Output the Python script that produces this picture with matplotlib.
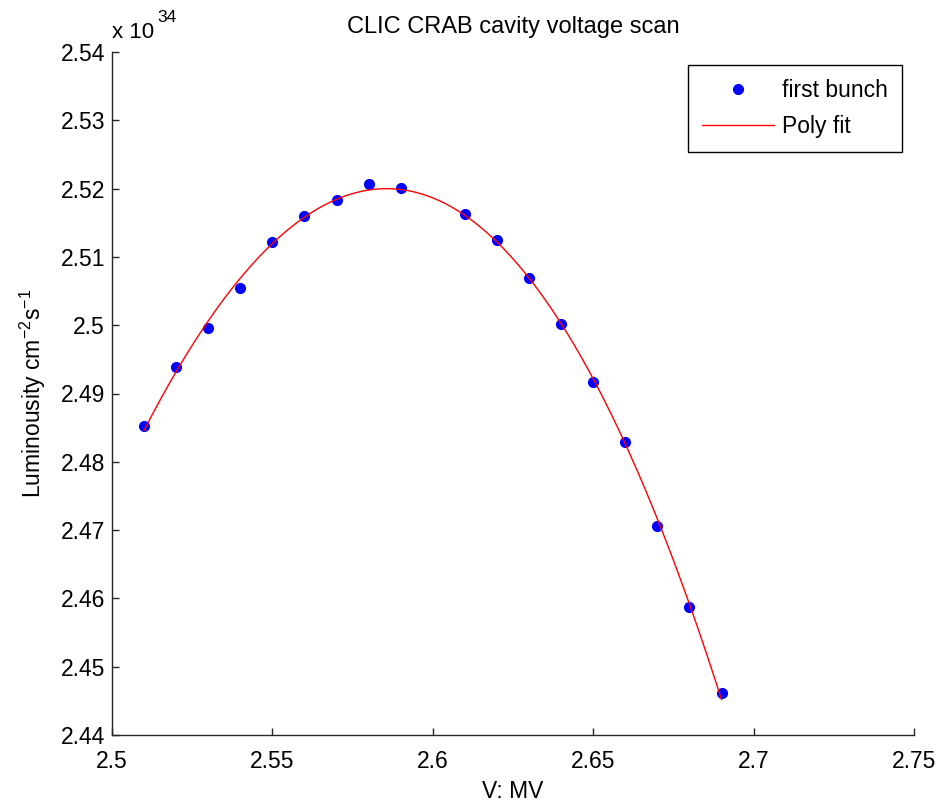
import numpy as np
import matplotlib
matplotlib.use('Agg')
import matplotlib.pyplot as plt

# Measured luminosity for the first bunch (units of 1e34 cm^-2 s^-1)
voltage = [2.51, 2.52, 2.53, 2.54, 2.55, 2.56, 2.57, 2.58, 2.59,
           2.61, 2.62, 2.63, 2.64, 2.65, 2.66, 2.67, 2.68, 2.69]
lumi = [2.4852, 2.4939, 2.4996, 2.5054, 2.5122, 2.5160, 2.5183, 2.5207, 2.5201,
        2.5163, 2.5125, 2.5069, 2.5002, 2.4917, 2.4829, 2.4706, 2.4587, 2.4462]

xticks = [2.5, 2.55, 2.6, 2.65, 2.7, 2.75]
yticks = [2.44, 2.45, 2.46, 2.47, 2.48, 2.49, 2.5, 2.51, 2.52, 2.53, 2.54]

plt.rcParams['font.family'] = ['Liberation Sans', 'DejaVu Sans']
plt.rcParams['font.size'] = 16.5
plt.rcParams['mathtext.fontset'] = 'custom'
plt.rcParams['mathtext.rm'] = 'Liberation Sans'
plt.rcParams['mathtext.it'] = 'Liberation Sans'

fig = plt.figure(figsize=(9.39, 8.08), dpi=100)
ax = fig.add_axes([112/939, 1 - 735/808, 802/939, 683/808])

# polynomial fit of the data
coef = np.polyfit(voltage, lumi, 3)
xf = np.linspace(min(voltage), max(voltage), 200)
yf = np.polyval(coef, xf)

ax.plot(voltage, lumi, 'o', color='#0000ff', markersize=7, label='first bunch')
ax.plot(xf, yf, '-', color='#ff0000', linewidth=1, label='Poly fit')

ax.set_xlim(2.5, 2.75)
ax.set_ylim(2.44, 2.54)
ax.set_xticks(xticks)
ax.set_xticklabels(['%g' % t for t in xticks])
ax.set_yticks(yticks)
ax.set_yticklabels(['%g' % t for t in yticks])
ax.tick_params(direction='in', length=5, width=1, color='#262626')
ax.tick_params(axis='x', pad=11)
ax.tick_params(axis='y', pad=5)

ax.spines['top'].set_visible(False)
ax.spines['right'].set_visible(False)
for s in ['left', 'bottom']:
    ax.spines[s].set_color('#262626')
    ax.spines[s].set_linewidth(1)

ax.set_title('CLIC CRAB cavity voltage scan', fontsize=17, pad=14)
ax.set_xlabel('V: MV', labelpad=5)
ax.set_ylabel(r'Luminousity cm$^{-2}$s$^{-1}$', labelpad=9)

# exponent label drawn by hand, MATLAB style
ax.text(0, 1.0 + 14/683, 'x 10', transform=ax.transAxes,
        ha='left', va='baseline', fontsize=16)
ax.text(45/802, 1.0 + 30/683, '34', transform=ax.transAxes,
        ha='left', va='baseline', fontsize=12.5)

leg = ax.legend(loc='upper right', bbox_to_anchor=(790/802, 670/683),
                borderaxespad=0, fancybox=False, edgecolor='black',
                handlelength=3.15, labelspacing=0.58, borderpad=0.6,
                handletextpad=0.35, framealpha=1)
leg.get_frame().set_linewidth(1)

fig.savefig('out.png', dpi=100)
